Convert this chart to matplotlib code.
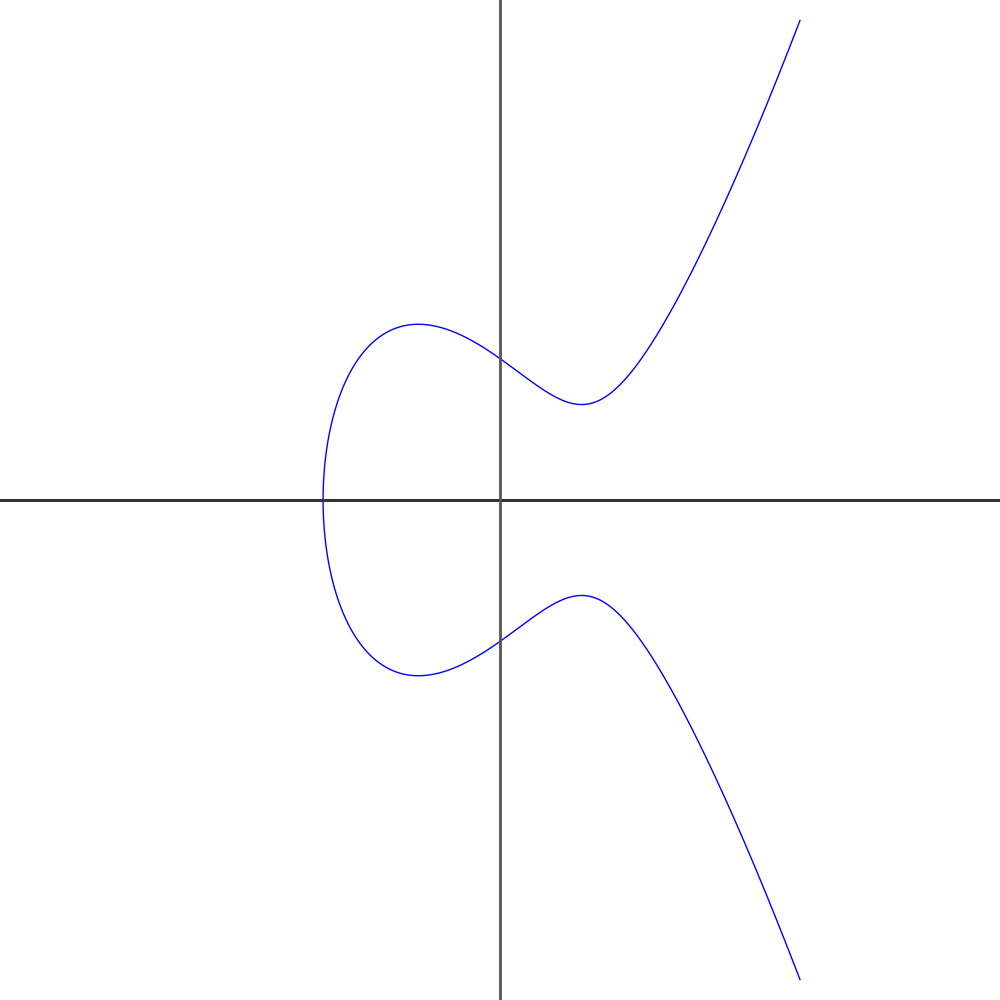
import matplotlib
matplotlib.use("Agg")
import matplotlib.pyplot as plt
import numpy as np

# elliptic curve y^2 = x^3 + a*x + b
a = -2.0
b = 2.0
x_max = 3.0
view = [-5, 5]

# real root of the cubic is the left end of the curve
roots = np.roots([1, 0, a, b])
x_root = min(r.real for r in roots if abs(r.imag) < 1e-9)

# denser sampling close to the root where the curve turns vertical
t = np.linspace(0, 1, 4000)
xs = x_root + (x_max - x_root) * t ** 2
ys = np.sqrt(np.clip(xs ** 3 + a * xs + b, 0, None))

fig = plt.figure(figsize=(10, 10), dpi=100)
ax = fig.add_axes([0, 0, 1, 1])
ax.plot(np.concatenate([xs[::-1], xs]), np.concatenate([ys[::-1], -ys]),
        color="#0000ff", lw=1.0, zorder=1)
ax.axhline(0, color="#333333", lw=2.2, zorder=2)
ax.axvline(0, color="#555555", lw=2.0, zorder=2)
ax.set_xlim(view)
ax.set_ylim(view)
ax.axis("off")

fig.savefig("out.png", dpi=100, facecolor="white")
